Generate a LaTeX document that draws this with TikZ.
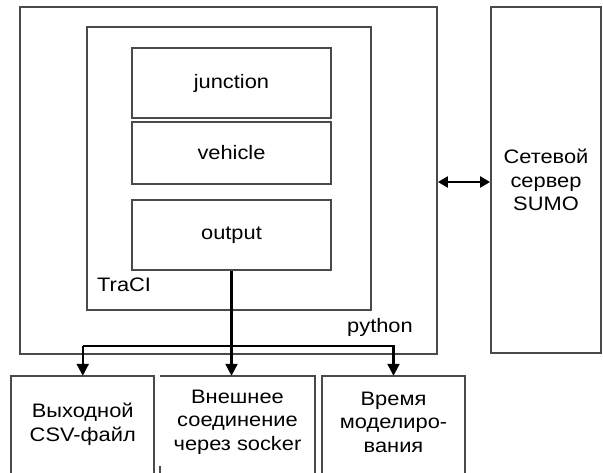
\documentclass[tikz,border=0pt]{standalone}
\usepackage{fontspec}
\setmainfont{Liberation Sans}[FakeStretch=1.12]
\usetikzlibrary{arrows.meta}
\definecolor{boxgray}{HTML}{4A4A4A}
\begin{document}
\begin{tikzpicture}[x=1pt,y=-1pt,
  font=\fontsize{19.5}{23.5}\selectfont,
  box/.style={draw=boxgray, line width=1.8pt, inner sep=0pt, align=center},
  bot/.style={inner sep=0pt, align=center, minimum height=97pt},
  edge/.style={draw=boxgray, line width=1.8pt},
  conn/.style={draw=black, line width=2.2pt},
  tip/.style={-{Triangle[width=12pt,length=12pt]}},
  dtip/.style={{Triangle[width=11pt,length=10pt]}-{Triangle[width=11pt,length=10pt]}}
]
\useasboundingbox (0,0) rectangle (603,473);
\fill[white] (0,0) rectangle (603,473);
% outer python box and server
\node[box, minimum width=417pt, minimum height=347pt] (py) at (228.5,180.5) {};
\node[box, minimum width=110pt, minimum height=346pt] (server) at (546,180) {Сетевой\\сервер\\SUMO};
% TraCI box
\node[box, minimum width=284pt, minimum height=283pt] (traci) at (229,168.5) {};
% inner modules
\node[box, minimum width=199pt, minimum height=70pt] (junction) at (231.5,83) {junction};
\node[box, minimum width=199pt, minimum height=62pt] (vehicle) at (231.5,153) {vehicle};
\node[box, minimum width=199pt, minimum height=70pt] (output) at (231.5,235) {output};
% labels
\node[anchor=west, inner sep=0pt] (tracilabel) at (97,285) {TraCI};
\node[inner sep=0pt] (pylabel) at (380,327) {python};
% bottom boxes
\node[bot, minimum width=142.5pt] (b1) at (82.75,424.5) {Выходной\\CSV-файл};
\node[bot, minimum width=155pt] (b2) at (237.5,422) {Внешнее\\соединение\\через socker};
\node[bot, minimum width=143pt] (b3) at (393.5,422) {Время\\моделиро-\\вания};
\draw[edge] (b1.south west) -- (b1.north west) -- (b1.north east) -- (b1.south east);
\draw[edge] (b1.north -| b2.west) -- (b1.north -| b2.east) -- (b1.south -| b2.east);
\draw[edge] (b1.south -| b2.west) -- ++(0,-7);
\draw[edge] (b1.south -| b3.west) -- (b1.north -| b3.west) -- (b1.north -| b3.east) -- (b1.south -| b3.east);
% connectors
\coordinate (bar) at (0,346);
\coordinate (mid) at (0,182);
\draw[conn, tip] (output.south) -- (output.south |- b1.north);
\draw[conn, tip] (b1.north |- bar) -- (b1.north);
\draw[conn, tip] (b1.north |- bar) -- (b3.north |- bar) -- (b3.north |- b1.north);
\draw[conn, dtip] (py.east |- mid) -- (server.west |- mid);
\end{tikzpicture}
\end{document}
